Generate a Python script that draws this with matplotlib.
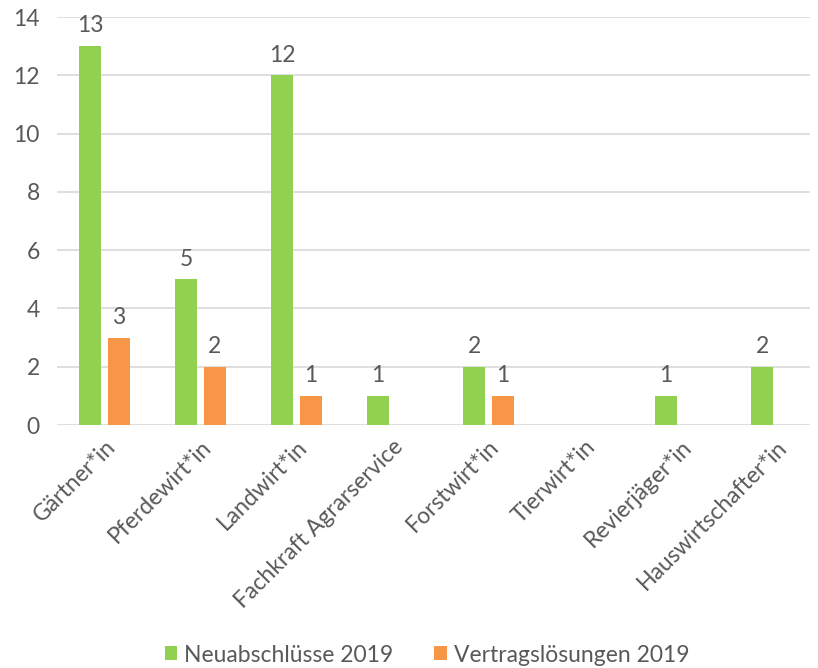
"""Neuabschlüsse und Vertragslösungen 2019 nach Beruf."""

import matplotlib

matplotlib.use("Agg")
import matplotlib.pyplot as plt
import numpy as np

categories = [
    "Gärtner*in",
    "Pferdewirt*in",
    "Landwirt*in",
    "Fachkraft Agrarservice",
    "Forstwirt*in",
    "Tierwirt*in",
    "Revierjäger*in",
    "Hauswirtschafter*in",
]
neuabschluesse = [13, 5, 12, 1, 2, 0, 1, 2]
vertragsloesungen = [3, 2, 1, 0, 1, 0, 0, 0]
series_labels = ["Neuabschlüsse 2019", "Vertragslösungen 2019"]
yticks = [0, 2, 4, 6, 8, 10, 12, 14]

GREEN = "#92D050"
ORANGE = "#F79646"
TEXT = "#595959"
GRID = "#D9D9D9"
FS = 16.5

plt.rcParams["font.family"] = ["Lato", "DejaVu Sans"]

fig = plt.figure(figsize=(8.18, 6.68), dpi=100)
ax = fig.add_axes([56.5 / 818, 1 - 425 / 668, (810 - 56.5) / 818, (425 - 17) / 668])

x = np.arange(len(categories))
width = 0.225
offset = 0.15

for vals, color, off, label in [
    (neuabschluesse, GREEN, -offset, series_labels[0]),
    (vertragsloesungen, ORANGE, offset, series_labels[1]),
]:
    bars = ax.bar(x + off, vals, width, color=color, label=label, zorder=3)
    for rect, v in zip(bars, vals):
        if v > 0:
            ax.annotate(
                str(v),
                (rect.get_x() + rect.get_width() / 2, v),
                xytext=(0, 7),
                textcoords="offset points",
                ha="center",
                va="bottom",
                fontsize=FS,
                color=TEXT,
            )

ax.set_ylim(0, 14)
ax.set_xlim(-0.5, -0.5 + (810 - 56.5) / 96)
ax.set_yticks(yticks)
ax.yaxis.grid(True, color=GRID, linewidth=1.2, zorder=0)
ax.set_axisbelow(True)
for side in ["top", "right", "left", "bottom"]:
    ax.spines[side].set_visible(False)
ax.tick_params(axis="both", length=0, labelsize=FS, colors=TEXT)
ax.tick_params(axis="y", pad=12)
ax.set_xticks(x)
ax.set_xticklabels(categories, rotation=45, ha="right", rotation_mode="anchor")
ax.tick_params(axis="x", pad=8)

handles, labels = ax.get_legend_handles_labels()
fig.legend(
    handles,
    labels,
    loc="center",
    bbox_to_anchor=(0.522, 1 - 655 / 668),
    ncol=2,
    frameon=False,
    fontsize=FS,
    handlelength=0.55,
    handleheight=0.55,
    handletextpad=0.3,
    columnspacing=1.8,
    labelcolor=TEXT,
)

fig.savefig("out.png", dpi=100)
